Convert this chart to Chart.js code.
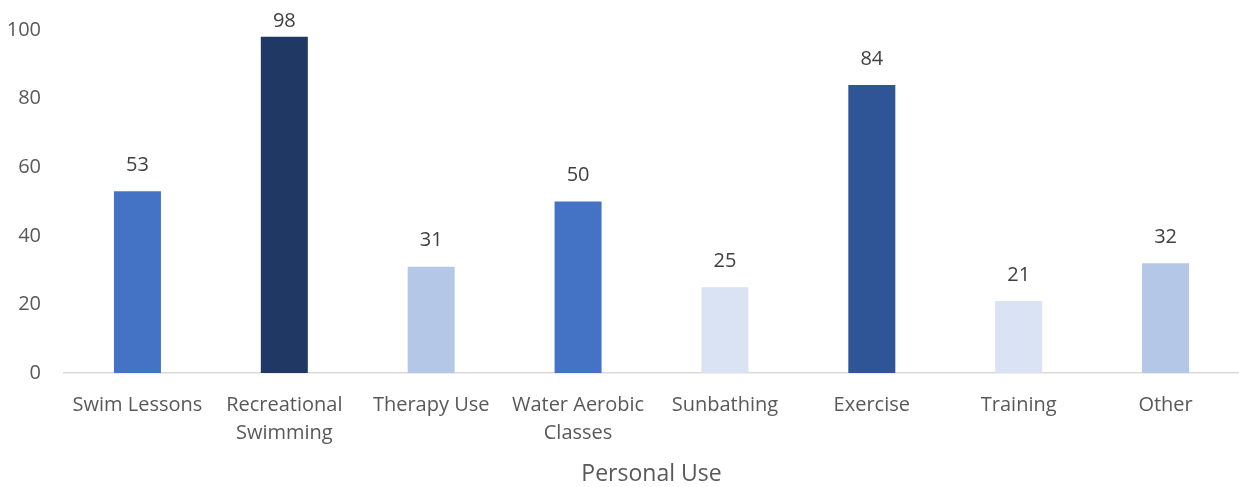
<!DOCTYPE html>
<html>
<head>
<meta charset="utf-8">
<script src="https://cdn.jsdelivr.net/npm/chart.js@4/dist/chart.umd.min.js"></script>
<style>
  html, body { margin: 0; padding: 0; background: #fff; }
  #wrap { width: 1239px; height: 487px; }
</style>
</head>
<body>
<div id="wrap"><canvas id="useChart"></canvas></div>
<script>
const categories = ["Swim Lessons", ["Recreational", "Swimming"], "Therapy Use", ["Water Aerobic", "Classes"], "Sunbathing", "Exercise", "Training", "Other"];
const counts = [53, 98, 31, 50, 25, 84, 21, 32];
const barColors = ["#4472C4", "#203864", "#B4C7E7", "#4472C4", "#DAE3F3", "#2F5597", "#DAE3F3", "#B4C7E7"];
const yTicks = [0, 20, 40, 60, 80, 100];

const FONT = "'Open Sans', 'Noto Sans', sans-serif";

// values above each bar (kept inside the canvas for the tall one)
const barValues = {
  id: "barValues",
  afterDatasetsDraw(chart) {
    const ctx = chart.ctx;
    const meta = chart.getDatasetMeta(0);
    ctx.save();
    ctx.font = "20px " + FONT;
    ctx.fillStyle = "#404040";
    ctx.textAlign = "center";
    ctx.textBaseline = "middle";
    meta.data.forEach((bar, i) => {
      ctx.fillText(counts[i], bar.x, Math.max(bar.y - 26, 21));
    });
    ctx.restore();
  }
};

new Chart("useChart", {
  type: "bar",
  data: {
    labels: categories,
    datasets: [{
      data: counts,
      backgroundColor: barColors,
      borderWidth: 0,
      categoryPercentage: 1,
      barPercentage: 0.32
    }]
  },
  options: {
    responsive: true,
    maintainAspectRatio: false,
    animation: false,
    layout: { padding: { top: 30, right: 0, bottom: 0, left: 0 } },
    plugins: {
      legend: { display: false },
      tooltip: { enabled: false }
    },
    scales: {
      x: {
        grid: { display: false, drawTicks: false },
        border: { display: true, color: "#D9D9D9", width: 1.5 },
        ticks: {
          color: "#595959",
          font: { family: FONT, size: 20, lineHeight: 1.4 },
          padding: 18,
          maxRotation: 0,
          autoSkip: false
        },
        title: {
          display: true,
          text: "Personal Use",
          color: "#595959",
          font: { family: FONT, size: 23, lineHeight: 1 },
          padding: { top: 0, bottom: 1 }
        },
        afterFit: s => { s.height = 114; s.paddingLeft = 0; s.paddingRight = 0; }
      },
      y: {
        min: 0,
        max: 100,
        afterBuildTicks: s => { s.ticks = yTicks.map(v => ({ value: v })); },
        grid: { display: false, drawTicks: false },
        border: { display: false },
        ticks: {
          color: "#595959",
          font: { family: FONT, size: 20 },
          padding: 23
        },
        afterFit: s => { s.width = 64; s.paddingTop = 0; s.paddingBottom = 0; }
      }
    }
  },
  plugins: [barValues]
});
</script>
</body>
</html>
